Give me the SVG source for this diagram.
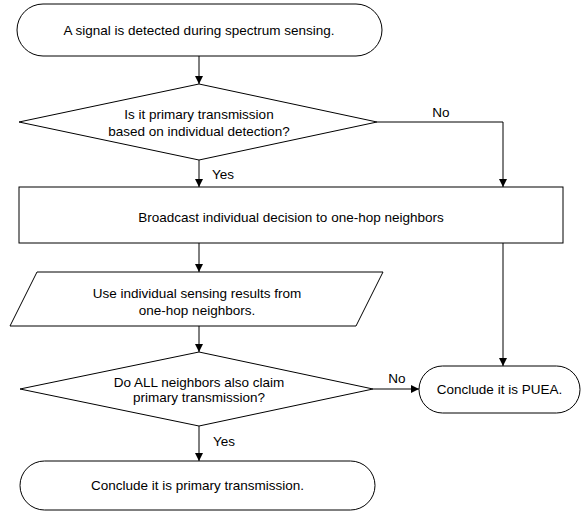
<svg xmlns="http://www.w3.org/2000/svg" width="585" height="512" viewBox="0 0 585 512">
<style>
.s{fill:#fff;stroke:#000;stroke-width:1}
.t{font-family:"Liberation Sans",Arial,sans-serif;font-size:13.5px;fill:#000;text-anchor:middle}
.c{fill:none;stroke:#000;stroke-width:1}
</style>
<defs>
<marker id="ah" viewBox="0 0 10 10" refX="10" refY="5" markerWidth="8" markerHeight="8" markerUnits="userSpaceOnUse" orient="auto">
<path d="M0,0L10,5L0,10z" fill="#000"/>
</marker>
</defs>
<rect width="585" height="512" fill="#fff"/>
<g id="connectors">
<path class="c" d="M199,56V84" marker-end="url(#ah)"/>
<path class="c" d="M199,160V187" marker-end="url(#ah)"/>
<path class="c" d="M377,122H503V187" marker-end="url(#ah)"/>
<path class="c" d="M199,243V272" marker-end="url(#ah)"/>
<path class="c" d="M503,243V366" marker-end="url(#ah)"/>
<path class="c" d="M199,326V352" marker-end="url(#ah)"/>
<path class="c" d="M373,389H419" marker-end="url(#ah)"/>
<path class="c" d="M199,426V461" marker-end="url(#ah)"/>
<text class="t" x="441" y="117">No</text>
<text class="t" x="223" y="179">Yes</text>
<text class="t" x="397" y="383">No</text>
<text class="t" x="224" y="446">Yes</text>
</g>
<g id="start">
<rect class="s" x="17" y="4" width="365" height="52" rx="26" ry="26"/>
<text class="t" x="199" y="35">A signal is detected during spectrum sensing.</text>
</g>
<g id="decision1">
<polygon class="s" points="199,84 377,122 199,160 19,122"/>
<text class="t" x="199" y="119">Is it primary transmission</text>
<text class="t" x="199" y="136">based on individual detection?</text>
</g>
<g id="broadcast">
<rect class="s" x="19" y="187" width="544" height="56"/>
<text class="t" x="291" y="222">Broadcast individual decision to one-hop neighbors</text>
</g>
<g id="input">
<polygon class="s" points="37,272 383,272 356,326 10,326"/>
<text class="t" x="197" y="298">Use individual sensing results from</text>
<text class="t" x="197" y="315">one-hop neighbors.</text>
</g>
<g id="decision2">
<polygon class="s" points="199,352 373,389 199,426 20,389"/>
<text class="t" x="199" y="387">Do ALL neighbors also claim</text>
<text class="t" x="199" y="402">primary transmission?</text>
</g>
<g id="puea">
<rect class="s" x="419" y="366" width="161" height="47" rx="23.5" ry="23.5"/>
<text class="t" x="499.5" y="394">Conclude it is PUEA.</text>
</g>
<g id="primary">
<rect class="s" x="20" y="461" width="355" height="49" rx="24.5" ry="24.5"/>
<text class="t" x="197.5" y="490">Conclude it is primary transmission.</text>
</g>
</svg>
